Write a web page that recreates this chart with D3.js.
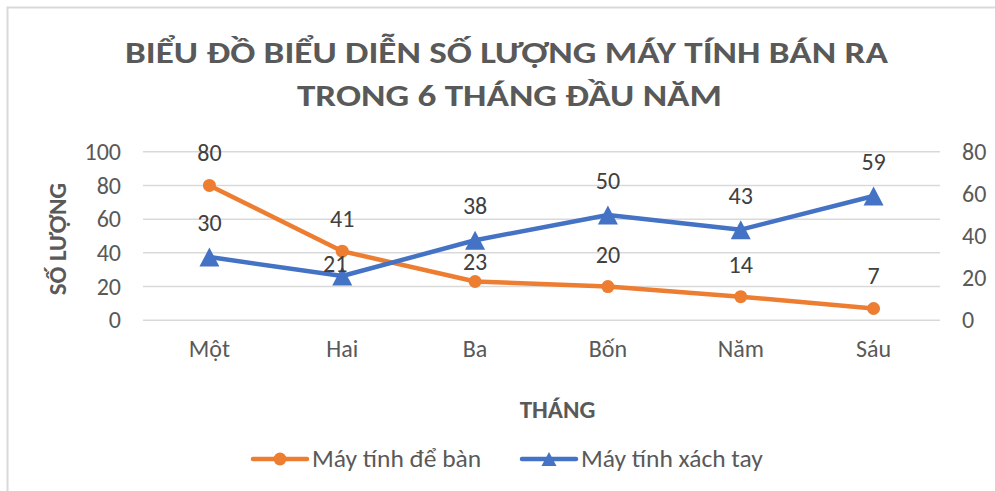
<!DOCTYPE html>
<html>
<head>
<meta charset="utf-8">
<script src="https://cdn.jsdelivr.net/npm/d3@7"></script>
<style>
  html, body { margin: 0; padding: 0; background: #fff; }
  svg { display: block; }
  text { font-family: Carlito, "Liberation Sans", Arial, sans-serif; }
</style>
</head>
<body>
<svg id="chart" width="995" height="491"></svg>
<script>
// Chart data
const months = ["Một", "Hai", "Ba", "Bốn", "Năm", "Sáu"];
const desktopSales = [80, 41, 23, 20, 14, 7];   // left axis
const laptopSales  = [30, 21, 38, 50, 43, 59];  // right axis
const leftTicks  = [0, 20, 40, 60, 80, 100];
const rightTicks = [0, 20, 40, 60, 80];
const seriesNames = ["Máy tính để bàn", "Máy tính xách tay"];
const titleLines = ["BIỂU ĐỒ BIỂU DIỄN SỐ LƯỢNG MÁY TÍNH BÁN RA", "TRONG 6 THÁNG ĐẦU NĂM"];
const yTitle = "SỐ LƯỢNG";
const xTitle = "THÁNG";

const orange = "#ED7D31", blue = "#4472C4";
const tickColor = "#595959", labelColor = "#404040", gridColor = "#D9D9D9";
const fs = "24px";

const svg = d3.select("#chart");

// outer chart frame
svg.append("rect")
  .attr("x", 7.5).attr("y", 7.5).attr("width", 1000).attr("height", 500)
  .attr("fill", "#fff").attr("stroke", "#D9D9D9").attr("stroke-width", 2);

const plot = { left: 143, right: 940, top: 151.7, bottom: 320.3 };

const x = d3.scaleBand().domain(months).range([plot.left, plot.right]);
const yL = d3.scaleLinear().domain([0, 100]).range([plot.bottom, plot.top]);
const yR = d3.scaleLinear().domain([0, 80]).range([plot.bottom, plot.top]);
const cx = m => x(m) + x.bandwidth() / 2;

// gridlines
svg.append("g").selectAll("line").data(leftTicks).join("line")
  .attr("x1", plot.left).attr("x2", plot.right)
  .attr("y1", d => yL(d)).attr("y2", d => yL(d))
  .attr("stroke", gridColor).attr("stroke-width", 1.5);

// left axis labels
const leftAxis = d3.axisLeft(yL).tickValues(leftTicks).tickSize(0).tickPadding(22);
svg.append("g").attr("transform", `translate(${plot.left},0)`).call(leftAxis)
  .call(g => g.select(".domain").remove())
  .selectAll("text").attr("fill", tickColor).style("font-size", fs);

// right axis labels
const rightAxis = d3.axisRight(yR).tickValues(rightTicks).tickSize(0).tickPadding(22);
svg.append("g").attr("transform", `translate(${plot.right},0)`).call(rightAxis)
  .call(g => g.select(".domain").remove())
  .selectAll("text").attr("fill", tickColor).style("font-size", fs);

// category labels
const bottomAxis = d3.axisBottom(x).tickSize(0).tickPadding(20);
svg.append("g").attr("transform", `translate(0,${plot.bottom})`).call(bottomAxis)
  .call(g => g.select(".domain").remove())
  .selectAll("text").attr("fill", tickColor).style("font-size", fs);

// series lines
const desktopPts = months.map((m, i) => [cx(m), yL(desktopSales[i])]);
const laptopPts  = months.map((m, i) => [cx(m), yR(laptopSales[i])]);
const line = d3.line();

svg.append("path").attr("d", line(desktopPts)).attr("fill", "none")
  .attr("stroke", orange).attr("stroke-width", 4.5).attr("stroke-linejoin", "round").attr("stroke-linecap", "round");
svg.append("path").attr("d", line(laptopPts)).attr("fill", "none")
  .attr("stroke", blue).attr("stroke-width", 4.5).attr("stroke-linejoin", "round").attr("stroke-linecap", "round");

// markers
const tri = (px, py) => `M${px},${py - 9.5}L${px + 10},${py + 9.5}L${px - 10},${py + 9.5}Z`;
svg.append("g").selectAll("circle").data(desktopPts).join("circle")
  .attr("cx", d => d[0]).attr("cy", d => d[1]).attr("r", 6.5).attr("fill", orange);
svg.append("g").selectAll("path").data(laptopPts).join("path")
  .attr("d", d => tri(d[0], d[1])).attr("fill", blue);

// data labels (two labels nudged to keep clear of crossing lines)
const desktopLift = [24, 24, 11.5, 24, 24, 24];
const laptopLift  = [26, 4.5, 26, 26, 26, 26];
const laptopShift = [0, -7, 0, 0, 0, 0];
svg.append("g").selectAll("text").data(desktopPts).join("text")
  .attr("x", d => d[0]).attr("y", (d, i) => d[1] - desktopLift[i])
  .attr("text-anchor", "middle").attr("fill", labelColor).style("font-size", fs)
  .text((d, i) => desktopSales[i]);
svg.append("g").selectAll("text").data(laptopPts).join("text")
  .attr("x", (d, i) => d[0] + laptopShift[i]).attr("y", (d, i) => d[1] - laptopLift[i])
  .attr("text-anchor", "middle").attr("fill", labelColor).style("font-size", fs)
  .text((d, i) => laptopSales[i]);

// title
const titleSpecs = [
  { text: titleLines[0], cx: 506.5, y: 63, w: 763 },
  { text: titleLines[1], cx: 509.5, y: 106, w: 425 }
];
titleSpecs.forEach(s => {
  svg.append("text")
    .attr("x", s.cx).attr("y", s.y).attr("text-anchor", "middle")
    .attr("fill", tickColor).style("font-size", "31px").style("font-weight", "bold")
    .attr("textLength", s.w).attr("lengthAdjust", "spacingAndGlyphs")
    .text(s.text);
});

// axis titles
svg.append("text")
  .attr("transform", "translate(66,239) rotate(-90)")
  .attr("text-anchor", "middle").attr("fill", tickColor)
  .style("font-size", "25px").style("font-weight", "bold")
  .text(yTitle);
svg.append("text")
  .attr("x", 557.5).attr("y", 418).attr("text-anchor", "middle").attr("fill", tickColor)
  .style("font-size", "25px").style("font-weight", "bold")
  .text(xTitle);

// legend
const legendY = 459;
const legendItems = [
  { name: seriesNames[0], color: orange, x0: 253, shape: "circle" },
  { name: seriesNames[1], color: blue, x0: 522, shape: "triangle" }
];
legendItems.forEach(it => {
  const g = svg.append("g");
  g.append("line").attr("x1", it.x0).attr("x2", it.x0 + 54)
    .attr("y1", legendY).attr("y2", legendY)
    .attr("stroke", it.color).attr("stroke-width", 4.5).attr("stroke-linecap", "round");
  const mx = it.x0 + 27;
  if (it.shape === "circle") {
    g.append("circle").attr("cx", mx).attr("cy", legendY).attr("r", 6.5).attr("fill", it.color);
  } else {
    g.append("path").attr("d", `M${mx},${legendY - 7}L${mx + 7.5},${legendY + 7}L${mx - 7.5},${legendY + 7}Z`).attr("fill", it.color);
  }
  g.append("text").attr("x", it.x0 + 59).attr("y", legendY).attr("dy", "0.33em")
    .attr("fill", tickColor).style("font-size", "25.5px").text(it.name);
});
</script>
</body>
</html>
